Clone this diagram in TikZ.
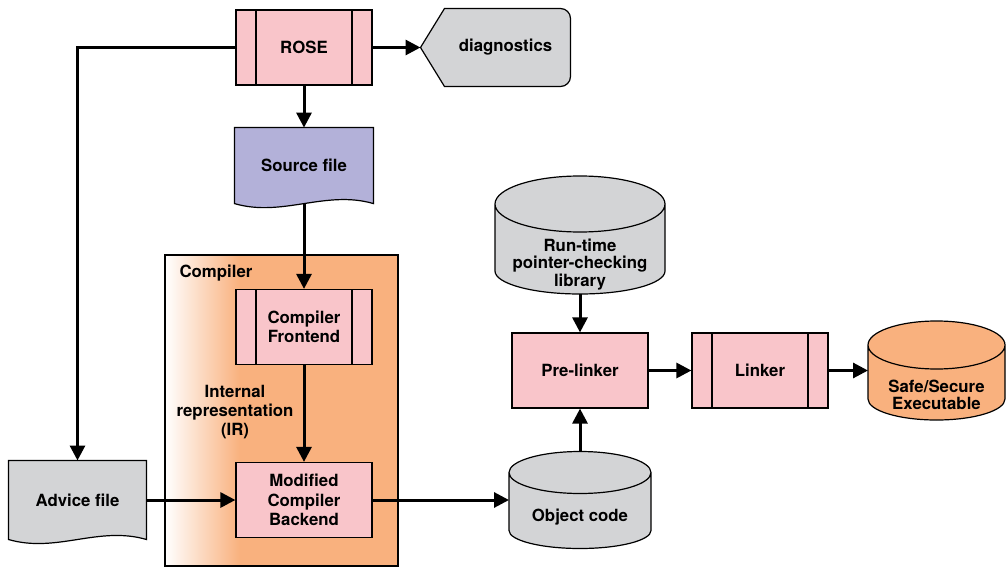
\documentclass[tikz,border=0pt]{standalone}
\usepackage{fontspec}
\setmainfont{TeX Gyre Heros}
\usetikzlibrary{arrows.meta,calc,positioning,backgrounds}
\definecolor{boxpink}{HTML}{F9C5CA}
\definecolor{filelav}{HTML}{B3B1D9}
\definecolor{dbgray}{HTML}{D3D4D6}
\definecolor{cmporange}{HTML}{F9B17E}
\pgfdeclarehorizontalshading{cmpshade}{100bp}{color(0bp)=(white); color(25bp)=(white); color(41bp)=(cmporange); color(100bp)=(cmporange)}
\tikzstyle{int}=[draw,fill=boxpink,line width=0.6pt,minimum width=68pt,minimum height=37.5pt,align=center]
\tikzstyle{intp}=[int,path picture={\draw[line width=0.6pt] ([xshift=10pt]path picture bounding box.north west) -- ([xshift=10pt]path picture bounding box.south west) ([xshift=-10pt]path picture bounding box.north east) -- ([xshift=-10pt]path picture bounding box.south east);}]
\tikzstyle{doc}=[minimum width=68pt,minimum height=36.5pt]
\tikzstyle{cyl}=[outer sep=0pt,inner sep=0pt]
\tikzstyle{lbl}=[align=center,inner sep=0pt]
\tikzstyle{cyllbl}=[lbl,font=\fontsize{8.4}{8.8}\selectfont\bfseries]

\begin{document}
\begin{tikzpicture}[x=0.5pt,y=-0.5pt,>={Triangle[length=7.5pt,width=7.5pt]},line width=1.5pt,
    every node/.append style={font=\fontsize{8.4}{9.6}\selectfont\bfseries}]
    \useasboundingbox (0,0) rectangle (1006,567);
    % compiler frame
    \node [draw,line width=0.6pt,shade,shading=cmpshade,minimum width=116.5pt,minimum height=155.5pt] (cmp) at (281.5,410.5) {};
    \node [anchor=base west,inner sep=0pt] (cmplbl) at (178,277) {Compiler};

    \node [intp] (rose) at (304,47.5) {ROSE};
    \node [doc] (src) [below=21pt of rose] {Source file};
    \node [intp] (front) at (304,327) {Compiler\\Frontend};
    \node [int] (back) at (304,500) {Modified\\Compiler\\Backend};
    \node [lbl] (ir) at (235,412) {Internal\\representation\\(IR)};
    \node [doc,minimum width=67.5pt,minimum height=38pt] (adv) at (77.5,500) {Advice file};
    \node [minimum width=73.5pt,minimum height=37.5pt] (diag) at (495.5,47.5) {\hspace*{10pt}diagnostics};

    \node [cyl,minimum width=85pt,minimum height=59pt] (lib) at (580,235) {};
    \node [int] (pre) at (580,370.5) {Pre-linker};
    \node [intp] (link) at (760,370.5) {Linker};
    \node [cyl,minimum width=68.5pt,minimum height=49.5pt] (safe) at (936.5,370.5) {};
    \node [cyl,minimum width=71pt,minimum height=48.5pt] (obj) at (580,500) {};

    \begin{scope}[on background layer]
      \foreach \d/\c in {src/filelav,adv/dbgray}
        \draw [line width=0.6pt,fill=\c] (\d.north west) -- (\d.north east) -- (\d.south east)
          .. controls +(-48,-14) and +(48,14) .. (\d.south west) -- cycle;
      \draw [line width=0.6pt,fill=dbgray] (diag.west) -- ([xshift=12pt]diag.north west)
        -- ([xshift=-5pt]diag.north east) arc[start angle=90,end angle=0,radius=5pt]
        -- ([yshift=5pt]diag.south east) arc[start angle=0,end angle=-90,radius=5pt]
        -- ([xshift=12pt]diag.south west) -- cycle;
      % cylinders
      \foreach \cy/\rx/\rt/\rb/\c in {lib/42.5pt/14pt/11.5pt/dbgray,obj/35.5pt/10.5pt/9pt/dbgray,safe/34.25pt/12pt/10.5pt/cmporange}
        \draw [line width=0.6pt,fill=\c] ([yshift=-\rt]\cy.north west) -- ([yshift=\rb]\cy.south west)
          arc[start angle=180,end angle=360,x radius=\rx,y radius=\rb]
          -- ([yshift=-\rt]\cy.north east)
          arc[start angle=0,end angle=180,x radius=\rx,y radius=\rt]
          arc[start angle=180,end angle=540,x radius=\rx,y radius=\rt];
    \end{scope}
    \node [cyllbl] (libtxt) at (580,264.5) {Run-time\\pointer-checking\\library};
    \node [cyllbl] (safetxt) at (936.5,395) {Safe/Secure\\Executable};
    \node [cyllbl] (objtxt) at (580,517) {Object code};

    \draw[->] (rose) -- (diag);
    \draw[->] (rose) -- (src);
    \draw[->] (rose) -| (adv);
    \draw[->] (src) -- (front);
    \draw[->] (front) -- (back);
    \draw[->] (adv) -- (back);
    \draw[->] (back) -- (obj);
    \draw[->] (obj) -- (pre);
    \draw[->] (lib) -- (pre);
    \draw[->] (pre) -- (link);
    \draw[->] (link) -- (safe);
\end{tikzpicture}
\end{document}
